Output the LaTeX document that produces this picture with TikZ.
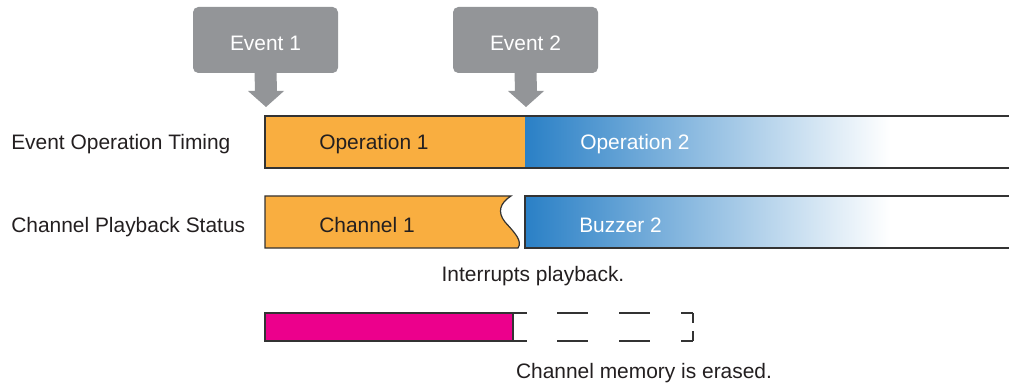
\documentclass[tikz,border=0pt]{standalone}
\usepackage{fontspec}
\setmainfont{Liberation Sans}
\usetikzlibrary{calc}
\definecolor{evgray}{HTML}{939598}
\definecolor{orng}{HTML}{F9AE40}
\definecolor{blu}{HTML}{2A80C6}
\definecolor{mag}{HTML}{EC008C}
\definecolor{ln}{HTML}{333333}
\definecolor{txt}{HTML}{231F20}
\begin{document}
\begin{tikzpicture}[x=0.75pt,y=-0.75pt,
  every node/.style={font=\fontsize{15.7}{18}\selectfont, text=txt, inner sep=0pt, text height=11.2pt, text depth=0pt},
  evbox/.style={fill=evgray, rounded corners=4pt, minimum width=108.75pt, minimum height=49.5pt, text=white},
  evarrow/.style={fill=evgray},
  barline/.style={draw=ln, line width=0.9pt},
  wlabel/.style={anchor=west, text=white},
  dlabel/.style={anchor=west},
  dashln/.style={draw=ln, line width=0.8pt}]
\useasboundingbox (0,0) rectangle (1009,388);

% events
\node[evbox] (e1) at (265.5,40) {};
\node[evbox] (e2) at (525.5,40) {};
\node[text=white] (e1t) at (265.5,43) {Event 1};
\node[text=white] (e2t) at (525.5,43) {Event 2};
\coordinate (t1) at (266,107);
\coordinate (t2) at (526,107);
\fill[evarrow] ($(e1.south)+(-11,-1)$) -- ($(e1.south)+(11,-1)$) -- ($(t1)+(11,-16)$) -- ($(t1)+(18,-16)$) -- (t1) -- ($(t1)+(-18,-16)$) -- ($(t1)+(-11,-16)$) -- cycle;
\fill[evarrow] ($(e2.south)+(-11,-1)$) -- ($(e2.south)+(11,-1)$) -- ($(t2)+(11,-16)$) -- ($(t2)+(18,-16)$) -- (t2) -- ($(t2)+(-18,-16)$) -- ($(t2)+(-11,-16)$) -- cycle;

% operation row
\fill[orng] (265,116) rectangle (525,168);
\shade[left color=blu, right color=white] (525,116) rectangle (890,168);
\draw[barline] (1015,116) -- (265,116) -- (265,168) -- (1015,168);
\node[dlabel] (lab1) at (11,142) {Event Operation Timing};
\node[dlabel] (op1) at (319,142) {Operation 1};
\node[wlabel] (op2) at (580,142) {Operation 2};

% channel row
\filldraw[fill=orng, barline] (265,196) -- (511,196) .. controls (500,203) and (497,212) .. (505,222) .. controls (514,232) and (523,241) .. (518,248) -- (265,248) -- cycle;
\shade[left color=blu, right color=white] (525,196) rectangle (890,248);
\draw[barline] (1015,196) -- (525,196) -- (525,248) -- (1015,248);
\node[dlabel] (lab2) at (11,225) {Channel Playback Status};
\node[dlabel] (ch1) at (319,225) {Channel 1};
\node[wlabel] (bz2) at (579,225) {Buzzer 2};
\node (intr) at (533,274) {Interrupts playback.};

% memory row
\filldraw[fill=mag, barline] (265,313) rectangle (513,341);
\draw[dashln, dash pattern=on 10.5pt off 22.5pt on 23.25pt off 23.25pt on 23.25pt off 23.25pt on 9pt] (513,313) -- (693,313);
\draw[dashln, dash pattern=on 10.5pt off 22.5pt on 23.25pt off 23.25pt on 23.25pt off 23.25pt on 9pt] (513,341) -- (693,341);
\draw[dashln, dash pattern=on 7.5pt off 6pt on 7.5pt] (693,313) -- (693,341);
\node (erase) at (644,371) {Channel memory is erased.};
\end{tikzpicture}
\end{document}
